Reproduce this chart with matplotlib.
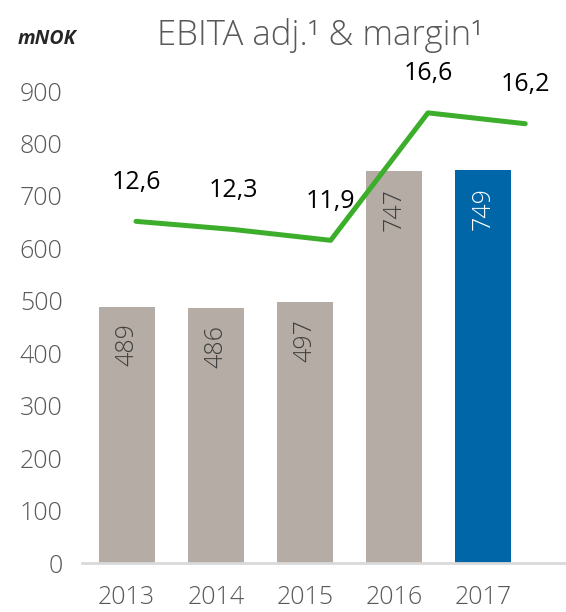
import numpy as np
import matplotlib
matplotlib.use('Agg')
import matplotlib.pyplot as plt

plt.rcParams['font.family'] = ['Open Sans', 'DejaVu Sans']

#(0) Data:
years    = ['2013', '2014', '2015', '2016', '2017']
ebita    = [489, 486, 497, 747, 749]
margin   = [12.6, 12.3, 11.9, 16.6, 16.2]
margin_s = ['12,6', '12,3', '11,9', '16,6', '16,2']

grey  = '#B5ADA5'
blue  = '#0066A8'
green = '#3DAE2B'
txt   = '#595959'

#(1) Figure:
fig = plt.figure(figsize=(5.66, 6.12), dpi=100)
ax  = fig.add_axes([0.145, 0.080, 0.855, 0.814])

x      = np.arange(len(years))
colors = [grey]*4 + [blue]
ax.bar(x, ebita, width=0.63, color=colors, zorder=2)
ax.set_xlim(-0.5, 4.93)
ax.set_ylim(0, 950)
ax.set_yticks(range(0, 1000, 100))
ax.set_xticks(x)
ax.set_xticklabels(years)
ax.tick_params(axis='both', length=0, labelsize=18, labelcolor=txt, pad=14)
ax.tick_params(axis='x', pad=16)
for lab in ax.get_xticklabels() + ax.get_yticklabels():
    lab.set_fontweight('light')
for s in ['top', 'right', 'left']:
    ax.spines[s].set_visible(False)
ax.spines['bottom'].set_color('#D9D9D9')
ax.spines['bottom'].set_linewidth(2)

for xi, v, c in zip(x, ebita, colors):
    ax.annotate(str(v), (xi, v), xytext=(0, -12), textcoords='offset points',
                rotation=90, ha='center', va='top', fontsize=18, fontweight='light',
                color='white' if c == blue else '#404040')

#(2) Margin line on own axes:
ax2 = ax.twinx()
ax2.set_axis_off()
ax2.set_ylim(0, 18.37)
ax3 = ax2.twiny()
ax3.set_axis_off()
ax3.set_xlim(-0.555, 4.419)
ax3.set_ylim(0, 18.37)
ax3.plot(x, margin, color=green, lw=3.6, solid_capstyle='round', zorder=3)
for xi, m, s in zip(x, margin, margin_s):
    ax3.annotate(s, (xi, m), xytext=(0, 28), textcoords='offset points',
                 ha='center', va='center', fontsize=18, color='black')

#(3) Titles:
fig.text(0.565, 0.942, 'EBITA adj.\u00b9 & margin\u00b9', ha='center', va='center',
         fontsize=25, fontweight='light', color=txt)
fig.text(0.032, 0.937, 'mNOK', ha='left', va='center', fontsize=14,
         style='italic', fontweight='bold', color='#262626')

fig.savefig('out.png', dpi=100)
